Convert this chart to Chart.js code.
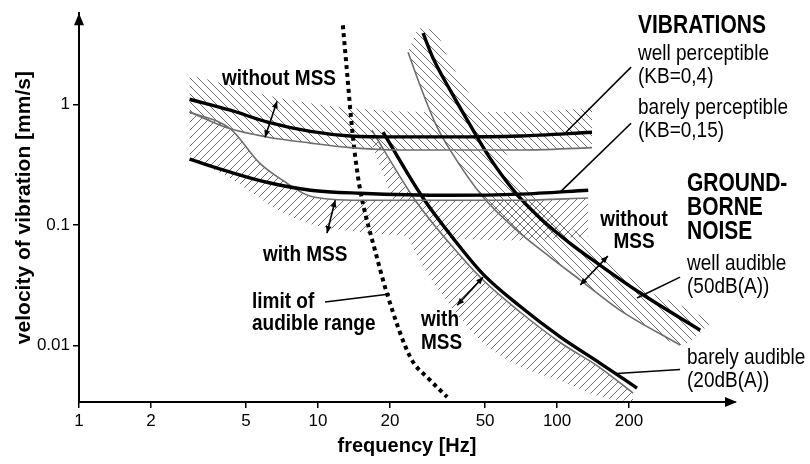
<!DOCTYPE html>
<html>
<head>
<meta charset="utf-8">
<script src="https://cdn.jsdelivr.net/npm/chart.js@4"></script>
<style>
  body { margin: 0; background: #fff; }
  #chart { display: block; }
</style>
</head>
<body>
<canvas id="chart" width="810" height="464"></canvas>
<script>
// values: frequency in Hz, velocity in mm/s
const xTicks = [1, 2, 5, 10, 20, 50, 100, 200];
const yTicks = [0.01, 0.1, 1];

// vibrations, well perceptible (KB=0,4)
const vibWellF = [2.9, 4.3, 6.1, 9.3, 13.6, 22, 36, 70, 140];
const vibWellV = [1.11, 0.90, 0.72, 0.60, 0.55, 0.54, 0.54, 0.55, 0.59];
const vibWellLowV = [0.87, 0.63, 0.54, 0.48, 0.44, 0.42, 0.42, 0.42, 0.44];
const vibWellTopV = [1.76, 1.45, 1.20, 1.03, 0.94, 0.88, 0.87, 0.87, 0.94];

// vibrations, barely perceptible (KB=0,15)
const vibBarelyF = [2.9, 4.3, 6.1, 9.3, 15, 36, 70, 135];
const vibBarelyV = [0.353, 0.275, 0.227, 0.195, 0.184, 0.177, 0.181, 0.195];
const vibBarelyLowF = [2.9, 4.3, 5.7, 7.1, 9.3, 15, 36, 70, 135];
const vibBarelyLowV = [0.87, 0.63, 0.327, 0.236, 0.174, 0.161, 0.161, 0.161, 0.168];
const vibBarelyBotV = [0.36, 0.245, 0.168, 0.128, 0.102, 0.0875, 0.078, 0.075, 0.081];

// ground-borne noise, well audible (50dB(A))
const noiseWellF = [27.5, 30.3, 35.7, 43.3, 52.4, 66.7, 85, 113, 151, 223, 397];
const noiseWellV = [3.92, 2.43, 1.32, 0.676, 0.36, 0.188, 0.114, 0.0709, 0.0466, 0.0273, 0.0134];
const noiseWellLowF = [23.8, 26.7, 31.2, 35.7, 49, 70, 93.5, 125, 183, 327];
const noiseWellLowV = [2.73, 1.45, 0.676, 0.419, 0.171, 0.0858, 0.0543, 0.035, 0.0197, 0.0101];
const noiseBandF = [23.8, 26.7, 31.2, 35.7, 49, 70, 93.5, 125, 183, 245, 327, 445];
const noiseBandTopV = [2.73, 4.31, 3.92, 2.25, 0.818, 0.26, 0.133, 0.0826, 0.0427, 0.0278, 0.0217, 0.0157];
const noiseBandBotV = [2.73, 1.45, 0.676, 0.419, 0.171, 0.0858, 0.0543, 0.035, 0.0197, 0.014, 0.0101, 0.0157];

// ground-borne noise, barely audible (20dB(A))
const noiseBarelyF = [18.7, 27.5, 36.7, 49, 70, 103, 151, 216];
const noiseBarelyV = [0.591, 0.168, 0.078, 0.0392, 0.0212, 0.0118, 0.00716, 0.00444];
const noiseBarelyLowF = [16.8, 25.5, 35.7, 49, 70, 103, 151, 208];
const noiseBarelyLowV = [0.614, 0.161, 0.0696, 0.035, 0.019, 0.0106, 0.00657, 0.00403];
const noiseBarelyBotV = [0.461, 0.0597, 0.0216, 0.0106, 0.0067, 0.00512, 0.00377, 0.0034];

// limit of audible range
const limitF = [12.7, 13.2, 13.9, 14.7, 15.4, 17.3, 19.4, 24.3, 29.4, 34.7];
const limitV = [4.57, 1.93, 0.614, 0.25, 0.152, 0.062, 0.0273, 0.00803, 0.00517, 0.00374];

// leader lines from the labels [f1, f2], [v1, v2]
const leaderF = [[204, 109], [204, 103], [327, 216], [327, 178], [10.7, 20]];
const leaderV = [[2.05, 0.591], [0.702, 0.188], [0.037, 0.0248], [0.00632, 0.00586], [0.023, 0.0268]];

// double arrows between the curves
const arrowF = [[6.0, 6.74], [11.8, 10.9], [49, 38.2], [163, 125]];
const arrowV = [[0.537, 1.07], [0.161, 0.0858], [0.037, 0.0216], [0.0553, 0.0318]];

const FONT = '"Liberation Sans", Arial, sans-serif';
Chart.defaults.font.family = FONT;
Chart.defaults.color = '#000';

const pts = (xs, ys) => xs.map((x, i) => ({x: x, y: ys[i]}));

const ctx = document.getElementById('chart').getContext('2d');

function hatch(back) {
  const c = document.createElement('canvas');
  c.width = 8; c.height = 8;
  const g = c.getContext('2d');
  g.strokeStyle = '#707070';
  g.lineWidth = 1;
  g.beginPath();
  if (back) {
    g.moveTo(0, 0); g.lineTo(8, 8);
    g.moveTo(-2, 6); g.lineTo(2, 10);
    g.moveTo(6, -2); g.lineTo(10, 2);
  } else {
    g.moveTo(0, 8); g.lineTo(8, 0);
    g.moveTo(-2, 2); g.lineTo(2, -2);
    g.moveTo(6, 10); g.lineTo(10, 6);
  }
  g.stroke();
  return ctx.createPattern(c, 'repeat');
}
const backHatch = hatch(true);
const fwdHatch = hatch(false);

const thick = (xs, ys) => ({
  data: pts(xs, ys), borderColor: '#000', borderWidth: 3.4,
  pointRadius: 0, fill: false, cubicInterpolationMode: 'monotone'
});
const thin = (xs, ys) => ({
  data: pts(xs, ys), borderColor: '#6e6e6e', borderWidth: 1.6,
  pointRadius: 0, fill: false, cubicInterpolationMode: 'monotone'
});
const bandTop = (xs, ys, pattern) => ({
  data: pts(xs, ys), borderWidth: 0, borderColor: 'rgba(0,0,0,0)',
  backgroundColor: pattern, pointRadius: 0, fill: '+1', cubicInterpolationMode: 'monotone'
});
const bandBot = (xs, ys) => ({
  data: pts(xs, ys), borderWidth: 0, borderColor: 'rgba(0,0,0,0)',
  pointRadius: 0, fill: false, cubicInterpolationMode: 'monotone'
});

const datasets = [
  thick(vibWellF, vibWellV),
  thin(vibWellF, vibWellLowV),
  thick(vibBarelyF, vibBarelyV),
  thin(vibBarelyLowF, vibBarelyLowV),
  thick(noiseWellF, noiseWellV),
  thin(noiseWellLowF, noiseWellLowV),
  thick(noiseBarelyF, noiseBarelyV),
  thin(noiseBarelyLowF, noiseBarelyLowV),
  {
    data: pts(limitF, limitV), borderColor: '#000', borderWidth: 4,
    borderDash: [4, 4], pointRadius: 0, fill: false, cubicInterpolationMode: 'monotone'
  }
];
leaderF.forEach((f, i) => {
  datasets.push({data: pts(f, leaderV[i]), borderColor: '#000', borderWidth: 1.6,
    pointRadius: 0, fill: false, tension: 0});
});
datasets.push(bandTop(vibWellF, vibWellTopV, backHatch));
datasets.push(bandBot(vibWellF, vibWellLowV));
datasets.push(bandTop(vibBarelyLowF, vibBarelyLowV, fwdHatch));
datasets.push(bandBot(vibBarelyLowF, vibBarelyBotV));
datasets.push(bandTop(noiseBandF, noiseBandTopV, backHatch));
datasets.push(bandBot(noiseBandF, noiseBandBotV));
datasets.push(bandTop(noiseBarelyLowF, noiseBarelyLowV, fwdHatch));
datasets.push(bandBot(noiseBarelyLowF, noiseBarelyBotV));

function head(c, x0, y0, x1, y1, len, half) {
  const a = Math.atan2(y1 - y0, x1 - x0);
  c.beginPath();
  c.moveTo(x1, y1);
  c.lineTo(x1 - len * Math.cos(a) + half * Math.sin(a), y1 - len * Math.sin(a) - half * Math.cos(a));
  c.lineTo(x1 - len * Math.cos(a) - half * Math.sin(a), y1 - len * Math.sin(a) + half * Math.cos(a));
  c.closePath();
  c.fill();
}

const labels = [
  // text, x, y, bold, size, align
  ['without MSS', 222, 79, true, 19, 'left'],
  ['with MSS', 263, 255, true, 19, 'left'],
  ['limit of', 252, 302, true, 19, 'left'],
  ['audible range', 252, 324, true, 19, 'left'],
  ['with', 421, 320, true, 19, 'left'],
  ['MSS', 421, 343, true, 19, 'left'],
  ['without', 634, 220, true, 19, 'center'],
  ['MSS', 634, 242, true, 19, 'center'],
  ['VIBRATIONS', 638, 26, true, 21, 'left'],
  ['well perceptible', 638, 54, false, 19, 'left'],
  ['(KB=0,4)', 638, 77, false, 19, 'left'],
  ['barely perceptible', 638, 108, false, 19, 'left'],
  ['(KB=0,15)', 638, 131, false, 19, 'left'],
  ['GROUND-', 687, 184, true, 21, 'left'],
  ['BORNE', 687, 208, true, 21, 'left'],
  ['NOISE', 687, 232, true, 21, 'left'],
  ['well audible', 687, 264, false, 19, 'left'],
  ['(50dB(A))', 687, 287, false, 19, 'left'],
  ['barely audible', 687, 358, false, 19, 'left'],
  ['(20dB(A))', 687, 381, false, 19, 'left']
];

const notes = {
  id: 'notes',
  afterDraw(chart) {
    const c = chart.ctx;
    const {x, y} = chart.scales;
    const area = chart.chartArea;
    c.save();
    c.fillStyle = '#000';
    c.strokeStyle = '#000';

    // axis arrow heads
    head(c, area.left, area.bottom, area.right + 2, area.bottom, 12, 5);
    head(c, area.left, area.bottom, area.left, area.top, 12, 5);

    // double arrows
    c.lineWidth = 1.6;
    arrowF.forEach((f, i) => {
      const x0 = x.getPixelForValue(f[0]), y0 = y.getPixelForValue(arrowV[i][0]);
      const x1 = x.getPixelForValue(f[1]), y1 = y.getPixelForValue(arrowV[i][1]);
      c.beginPath();
      c.moveTo(x0, y0);
      c.lineTo(x1, y1);
      c.stroke();
      head(c, x0, y0, x1, y1, 7, 3);
      head(c, x1, y1, x0, y0, 7, 3);
    });

    // the figure's lettering is a little taller than it is wide
    c.textBaseline = 'middle';
    labels.forEach(([t, px, py, bold, size, align]) => {
      c.save();
      c.translate(px, py);
      c.scale(1, 1.2);
      c.font = (bold ? 'bold ' : '') + size + 'px ' + FONT;
      c.textAlign = align;
      c.fillText(t, 0, 0);
      c.restore();
    });
    c.restore();
  }
};

new Chart(ctx, {
  type: 'line',
  data: {datasets: datasets},
  options: {
    responsive: false,
    animation: false,
    devicePixelRatio: 1,
    layout: {padding: {top: 13, right: 75, left: 0, bottom: 0}},
    plugins: {
      legend: {display: false},
      tooltip: {enabled: false},
      filler: {drawTime: 'beforeDatasetsDraw'}
    },
    scales: {
      x: {
        type: 'logarithmic',
        min: 1,
        max: 555,
        afterFit: s => { s.height = 62; },
        afterBuildTicks: s => { s.ticks = xTicks.map(v => ({value: v})); },
        ticks: {
          font: {size: 17},
          color: '#000',
          padding: 3,
          maxRotation: 0,
          autoSkip: false,
          callback: v => String(v)
        },
        grid: {drawOnChartArea: false, drawTicks: true, tickLength: 6, color: '#000', lineWidth: 1.5},
        border: {display: true, color: '#000', width: 2},
        title: {display: true, text: 'frequency [Hz]', color: '#000',
          font: {size: 20, weight: 'bold'}, padding: {top: 0, bottom: 6}}
      },
      y: {
        type: 'logarithmic',
        min: 0.0034,
        max: 5.75,
        afterFit: s => { s.width = 79; },
        afterBuildTicks: s => { s.ticks = yTicks.map(v => ({value: v})); },
        ticks: {
          font: {size: 17},
          color: '#000',
          padding: 3,
          autoSkip: false,
          callback: v => String(v)
        },
        grid: {drawOnChartArea: false, drawTicks: true, tickLength: 6, color: '#000', lineWidth: 1.5},
        border: {display: true, color: '#000', width: 2},
        title: {display: true, text: 'velocity of vibration [mm/s]', color: '#000',
          font: {size: 21, weight: 'bold'}, padding: {top: 12, bottom: 0}}
      }
    }
  },
  plugins: [notes]
});
</script>
</body>
</html>
